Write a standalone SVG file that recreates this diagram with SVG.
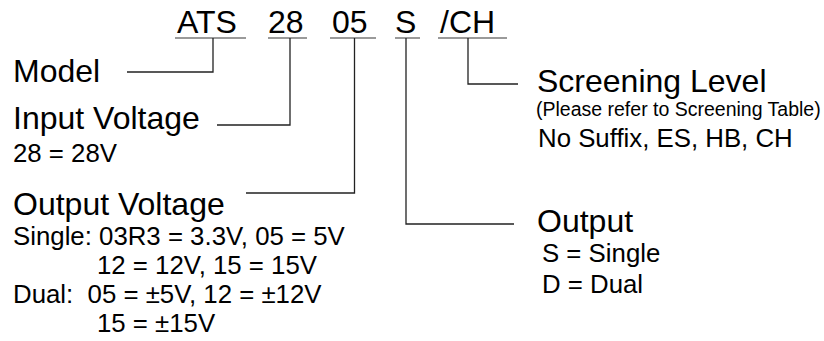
<svg xmlns="http://www.w3.org/2000/svg" width="824" height="341" viewBox="0 0 824 341">
<style>
text{font-family:"Liberation Sans",Arial,sans-serif;fill:#000}
.big{font-size:32px}
.mid{font-size:25.8px}
.sm{font-size:19.5px}
.ul{stroke:#7a7a7a;stroke-width:1.6;fill:none}
.ln{stroke:#222;stroke-width:1.3;fill:none}
</style>
<rect width="824" height="341" fill="#fff"/>
<g id="code">
<text class="big" x="177" y="33">ATS</text>
<text class="big" x="268" y="33">28</text>
<text class="big" x="332" y="33">05</text>
<text class="big" x="395" y="33">S</text>
<text class="big" x="440" y="33">/CH</text>
<path class="ul" d="M175 38H246M268 38H307M330 38H376M395 38H420M438 38H507"/>
</g>
<g id="model"><text class="big" x="13" y="82">Model</text></g>
<g id="input">
<text class="big" x="13" y="129">Input Voltage</text>
<text class="mid" x="13" y="162">28 = 28V</text>
</g>
<g id="outvolt">
<text class="big" x="13" y="215">Output Voltage</text>
<text class="mid" x="13" y="245">Single: 03R3 = 3.3V, 05 = 5V</text>
<text class="mid" x="97" y="274">12 = 12V, 15 = 15V</text>
<text class="mid" x="13" y="303" xml:space="preserve">Dual:  05 = ±5V, 12 = ±12V</text>
<text class="mid" x="97" y="332">15 = ±15V</text>
</g>
<g id="screening">
<text class="big" x="537" y="92">Screening Level</text>
<text class="sm" x="536" y="116">(Please refer to Screening Table)</text>
<text class="mid" x="538" y="147">No Suffix, ES, HB, CH</text>
</g>
<g id="output">
<text class="big" x="537" y="232">Output</text>
<text class="mid" x="542" y="262">S = Single</text>
<text class="mid" x="542" y="293">D = Dual</text>
</g>
<g id="connectors">
<path class="ln" d="M213 38V72H127"/>
<path class="ln" d="M290 38V125H217"/>
<path class="ln" d="M354.5 38V193H246"/>
<path class="ln" d="M406 38V224H514"/>
<path class="ln" d="M468 38V84H518"/>
</g>
</svg>
